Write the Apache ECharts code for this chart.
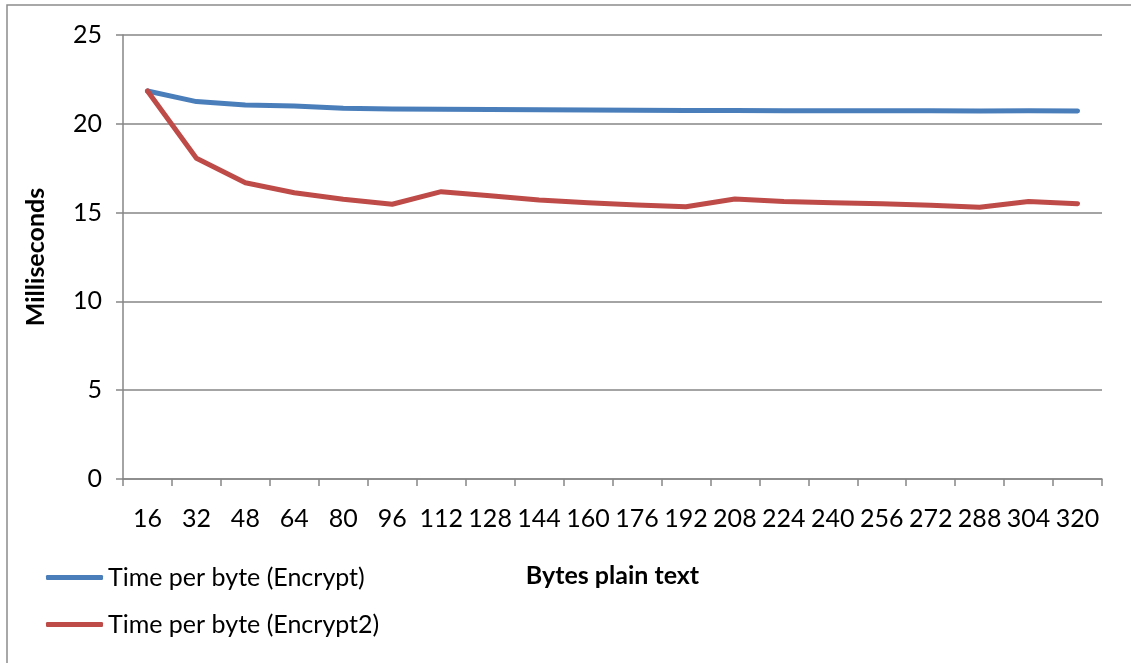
<!DOCTYPE html>
<html>
<head>
<meta charset="utf-8">
<title>Time per byte</title>
<script src="https://cdn.jsdelivr.net/npm/echarts@6/dist/echarts.min.js"></script>
<style>
  html, body { margin: 0; padding: 0; background: #ffffff; }
  #chart { width: 1131px; height: 663px; }
</style>
</head>
<body>
<div id="chart"></div>
<script>
// Plain-text size in bytes
const categories = ['16', '32', '48', '64', '80', '96', '112', '128', '144', '160',
                    '176', '192', '208', '224', '240', '256', '272', '288', '304', '320'];

// Milliseconds per byte, first implementation
const encrypt = [21.85, 21.25, 21.06, 21.0, 20.88, 20.84, 20.82, 20.8, 20.79, 20.77,
                 20.76, 20.75, 20.75, 20.74, 20.74, 20.74, 20.73, 20.72, 20.73, 20.72];

// Milliseconds per byte, second implementation
const encrypt2 = [21.85, 18.06, 16.68, 16.12, 15.75, 15.47, 16.18, 15.95, 15.71, 15.56,
                  15.43, 15.33, 15.77, 15.62, 15.56, 15.5, 15.41, 15.3, 15.62, 15.5];

const yTicks = [0, 5, 10, 15, 20, 25];

const FONT = 'Lato';
const FS = 25;
const GRAY = '#868686';

const chart = echarts.init(document.getElementById('chart'), null, { renderer: 'canvas' });

chart.setOption({
  backgroundColor: '#ffffff',
  animation: false,
  textStyle: { fontFamily: FONT, color: '#000000' },
  grid: { left: 123, right: 29, top: 35, bottom: 184, containLabel: false },
  graphic: [{
    type: 'polyline',
    shape: { points: [[7, 663], [7, 5], [1131, 5]] },
    style: { stroke: '#8c8c8c', lineWidth: 1.5, fill: null },
    silent: true
  }],
  legend: {
    orient: 'vertical',
    left: 41,
    top: 560,
    itemWidth: 57,
    itemHeight: 5,
    itemGap: 22,
    icon: 'roundRect',
    textStyle: { fontFamily: FONT, fontSize: FS, color: '#000000', lineHeight: 25, padding: [0, 0, 0, 0] },
    data: ['Time per byte (Encrypt)', 'Time per byte (Encrypt2)']
  },
  xAxis: {
    type: 'category',
    data: categories,
    boundaryGap: true,
    name: 'Bytes plain text',
    nameLocation: 'middle',
    nameGap: 84,
    nameTextStyle: { fontFamily: FONT, fontSize: FS, fontWeight: 'bold', color: '#000000' },
    axisLine: { show: true, lineStyle: { color: GRAY, width: 1.5 } },
    axisTick: { show: true, length: 7, alignWithLabel: false, interval: 0, lineStyle: { color: GRAY, width: 1.5 } },
    axisLabel: { interval: 0, margin: 27, fontFamily: FONT, fontSize: FS, color: '#000000' },
    splitLine: { show: false }
  },
  yAxis: {
    type: 'value',
    min: yTicks[0],
    max: yTicks[yTicks.length - 1],
    interval: 5,
    name: 'Milliseconds',
    nameLocation: 'middle',
    nameRotate: 90,
    nameGap: 75,
    nameTextStyle: { fontFamily: FONT, fontSize: FS, fontWeight: 'bold', color: '#000000' },
    axisLine: { show: true, lineStyle: { color: GRAY, width: 1.5 } },
    axisTick: { show: true, length: 7, lineStyle: { color: GRAY, width: 1.5 } },
    axisLabel: { margin: 21, fontFamily: FONT, fontSize: FS, color: '#000000' },
    splitLine: { show: true, lineStyle: { color: GRAY, width: 1.5 } }
  },
  series: [
    {
      name: 'Time per byte (Encrypt)',
      type: 'line',
      data: encrypt,
      symbol: 'none',
      smooth: false,
      color: '#4a7ebb',
      lineStyle: { color: '#4a7ebb', width: 5, cap: 'round', join: 'round' },
      z: 3
    },
    {
      name: 'Time per byte (Encrypt2)',
      type: 'line',
      data: encrypt2,
      symbol: 'none',
      smooth: false,
      color: '#be4b48',
      lineStyle: { color: '#be4b48', width: 5, cap: 'round', join: 'round' },
      z: 4
    }
  ]
});
</script>
</body>
</html>
